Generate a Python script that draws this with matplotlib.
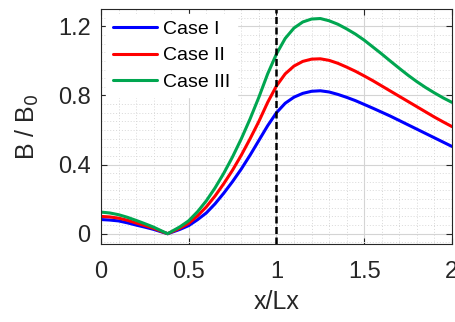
import numpy as np
import matplotlib
matplotlib.use('Agg')
import matplotlib.pyplot as plt
from matplotlib.ticker import MultipleLocator, FuncFormatter

plt.rcParams['font.family'] = ['Liberation Sans', 'DejaVu Sans']

# normalised field magnitude along x for the three cases
x = [0.0, 0.05, 0.1, 0.15, 0.2, 0.25, 0.3, 0.35, 0.38, 0.45, 0.5, 0.55, 0.6,
     0.65, 0.7, 0.75, 0.8, 0.85, 0.9, 0.95, 1.0, 1.05, 1.1, 1.15, 1.2, 1.25,
     1.3, 1.35, 1.4, 1.45, 1.5, 1.55, 1.6, 1.65, 1.7, 1.75, 1.8, 1.85, 1.9,
     1.95, 2.0]
case1 = [0.082, 0.079, 0.074, 0.063, 0.05, 0.038, 0.025, 0.009, 0.0, 0.025,
         0.047, 0.081, 0.12, 0.173, 0.235, 0.302, 0.375, 0.455, 0.54, 0.625,
         0.70, 0.755, 0.79, 0.812, 0.824, 0.827, 0.82, 0.806, 0.789, 0.77,
         0.748, 0.726, 0.703, 0.68, 0.655, 0.63, 0.605, 0.58, 0.555, 0.53, 0.505]
case2 = [0.10, 0.097, 0.09, 0.078, 0.062, 0.047, 0.031, 0.011, 0.0, 0.032,
         0.06, 0.103, 0.155, 0.218, 0.29, 0.368, 0.455, 0.55, 0.65, 0.76,
         0.855, 0.925, 0.97, 0.997, 1.01, 1.012, 1.003, 0.986, 0.964, 0.94,
         0.913, 0.885, 0.855, 0.825, 0.795, 0.765, 0.735, 0.705, 0.675, 0.647, 0.62]
case3 = [0.125, 0.12, 0.11, 0.095, 0.077, 0.058, 0.038, 0.014, 0.0, 0.04,
         0.075, 0.127, 0.19, 0.265, 0.35, 0.445, 0.55, 0.665, 0.79, 0.925,
         1.04, 1.13, 1.19, 1.225, 1.242, 1.245, 1.232, 1.212, 1.185, 1.155,
         1.12, 1.08, 1.04, 0.998, 0.957, 0.917, 0.88, 0.846, 0.815, 0.786, 0.76]
labels = ['Case I', 'Case II', 'Case III']
colors = ['#0000ff', '#ff0000', '#00a650']
x_mark = 1.0

fig = plt.figure(figsize=(4.56, 3.22), dpi=100)
ax = fig.add_axes([0.2215, 0.242, 0.7695, 0.730])

for y, lab, c in zip([case1, case2, case3], labels, colors):
    ax.plot(x, y, color=c, lw=2.2, label=lab,
            solid_joinstyle='round', solid_capstyle='round')

ax.axvline(x_mark, color='k', ls=(0, (2.8, 1.4)), lw=1.8)

ax.set_xlim(0, 2)
ax.set_ylim(-0.06, 1.3)
ax.xaxis.set_major_locator(MultipleLocator(0.5))
ax.xaxis.set_minor_locator(MultipleLocator(0.1))
ax.yaxis.set_major_locator(MultipleLocator(0.4))
ax.yaxis.set_minor_locator(MultipleLocator(0.05))
ax.xaxis.set_major_formatter(FuncFormatter(lambda v, p: f'{v:g}'))
ax.yaxis.set_major_formatter(FuncFormatter(lambda v, p: f'{v:g}'))

ax.grid(which='major', color='#d4d4d4', lw=0.8, ls='-')
ax.grid(which='minor', color='#d8d8d8', lw=0.7, ls=(0, (1, 2)))
ax.set_axisbelow(True)

ax.tick_params(which='both', direction='in', top=True, right=True,
               labelsize=17, colors='#262626')
ax.tick_params(axis='x', pad=12)
ax.tick_params(axis='y', pad=7.5)
ax.tick_params(which='minor', length=0)
ax.tick_params(which='major', length=4)
for s in ax.spines.values():
    s.set_color('#262626')
    s.set_linewidth(0.8)

ax.set_xlabel('x/Lx', fontsize=18, color='#262626', labelpad=5)
ax.set_ylabel('B / B$_0$', fontsize=18, color='#262626', labelpad=12)

leg = ax.legend(loc='upper left', fontsize=14, frameon=True, fancybox=False,
                edgecolor='white', framealpha=1, handlelength=2.3,
                handletextpad=0.3, labelspacing=0.44, borderpad=0.35,
                borderaxespad=0.25)

fig.savefig('out.png', dpi=100)
